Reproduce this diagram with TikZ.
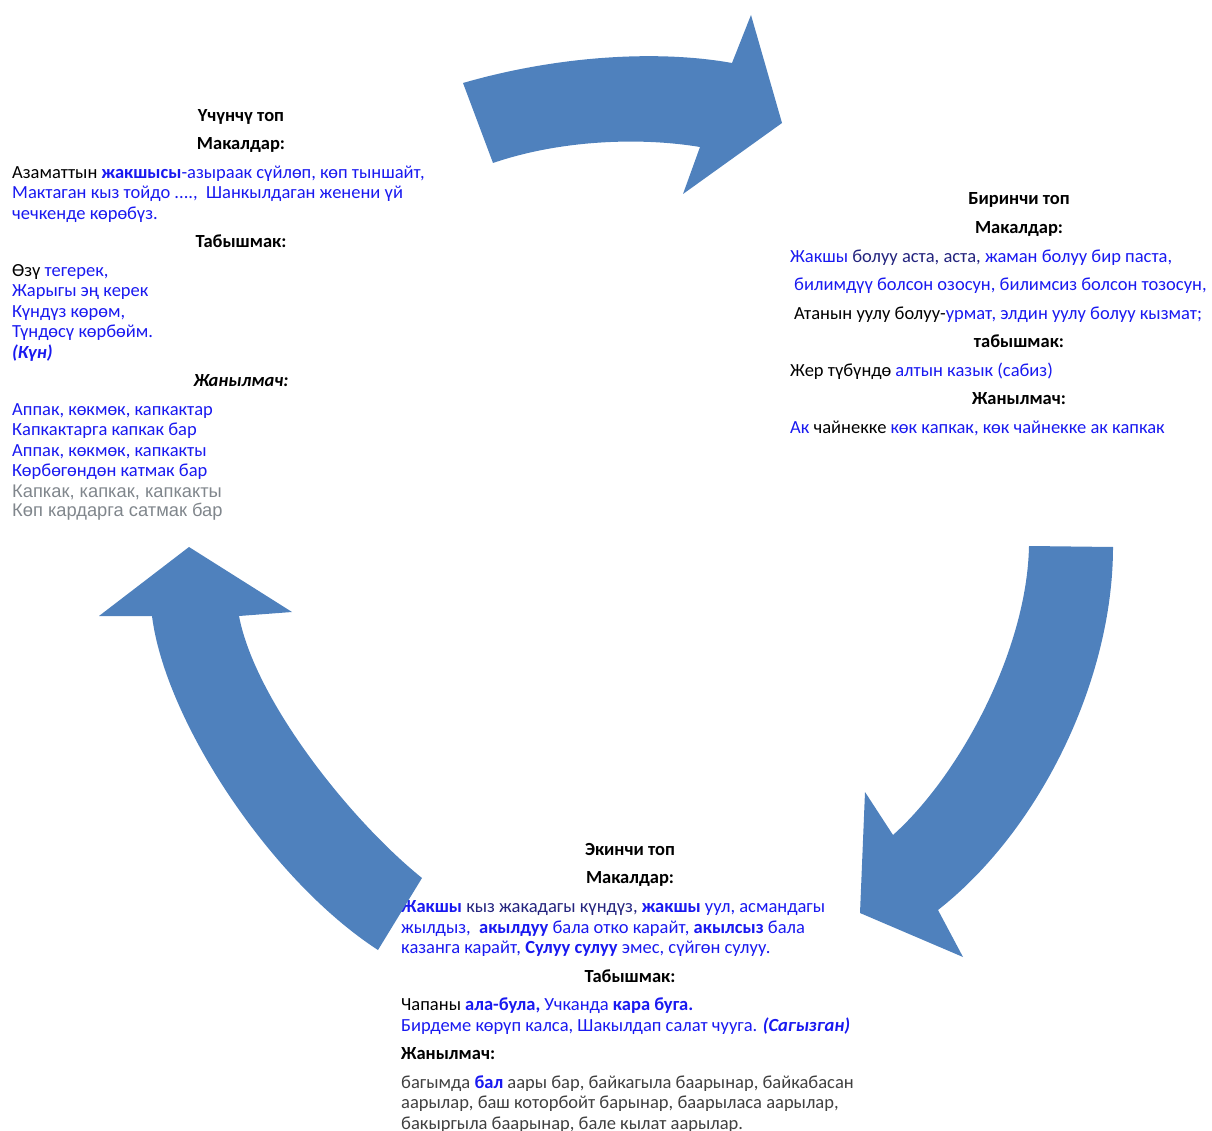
\documentclass[tikz,border=0pt]{standalone}
\usepackage{fontspec}
\setmainfont{Carlito}
\newfontfamily\arialf{Liberation Sans}
\definecolor{kblue}{RGB}{25,25,240}
\definecolor{knavy}{RGB}{35,35,125}
\definecolor{kgrey}{RGB}{128,134,140}
\definecolor{kdark}{RGB}{64,64,64}
\definecolor{arrowblue}{HTML}{4F81BD}
\newcommand{\fs}{\fontsize{18.5}{22}\selectfont}
\newcommand{\kb}[1]{\textcolor{kblue}{#1}}
\tikzset{
  txt/.style={anchor=base west, inner sep=0pt, font=\fs},
  hd/.style={anchor=base, inner sep=0pt, font=\fs\bfseries},
  bigarrow/.style={fill=arrowblue, draw=none}
}
\begin{document}
\begin{tikzpicture}[x=1pt,y=-1pt]
\useasboundingbox (0,0) rectangle (1212,1131);
\begin{scope}[shift={(0,1.5)}]
% ---------- left block: Үчүнчү топ ----------
\node[hd] (l0) at (241,120) {Үчүнчү топ};
\node[hd] (l1) at (241,148) {Макалдар:};
\node[txt] (l2) at (12,177) {Азаматтын \kb{\textbf{жакшысы}-азыраак сүйлөп, көп тыншайт,}};
\node[txt,kblue] (l3) at (12,197) {Мактаган кыз тойдо ....,\ \ Шанкылдаган женени үй};
\node[txt,kblue] (l4) at (12,218) {чечкенде көрөбүз.};
\node[hd] (l5) at (241,246) {Табышмак:};
\node[txt] (l6) at (12,275) {Өзү \kb{тегерек,}};
\node[txt,kblue] (l7) at (12,295) {Жарыгы эң керек};
\node[txt,kblue] (l8) at (12,316) {Күндүз көрөм,};
\node[txt,kblue] (l9) at (12,336) {Түндөсү көрбөйм.};
\node[txt,kblue,font=\fs\bfseries\itshape] (l10) at (12,357) {(Күн)};
\node[hd,font=\fs\bfseries\itshape] (l11) at (241,385) {Жанылмач:};
\node[txt,kblue] (l12) at (12,414) {Аппак, көкмөк, капкактар};
\node[txt,kblue] (l13) at (12,434) {Капкактарга капкак бар};
\node[txt,kblue] (l14) at (12,455) {Аппак, көкмөк, капкакты};
\node[txt,kblue] (l15) at (12,475) {Көрбөгөндөн катмак бар};
\node[txt,kgrey,font=\fontsize{18.3}{22}\arialf] (l16) at (12,496) {Капкак, капкак, капкакты};
\node[txt,kgrey,font=\fontsize{18.3}{22}\arialf] (l17) at (12,515) {Көп кардарга сатмак бар};
% ---------- right block: Биринчи топ ----------
\node[hd] (r0) at (1019,203) {Биринчи топ};
\node[hd] (r1) at (1019,232) {Макалдар:};
\node[txt,knavy] (r2) at (790,261) {\kb{Жакшы} болуу аста, аста, \kb{жаман болуу бир паста,}};
\node[txt,kblue] (r3) at (794,289) {билимдүү болсон озосун, билимсиз болсон тозосун,};
\node[txt] (r4) at (794,318) {Атанын уулу болуу-\kb{урмат, элдин уулу болуу кызмат;}};
\node[hd] (r5) at (1019,346) {табышмак:};
\node[txt] (r6) at (790,375) {Жер түбүндө \kb{алтын казык (сабиз)}};
\node[hd] (r7) at (1019,403) {Жанылмач:};
\node[txt] (r8) at (790,432) {\kb{Ак} чайнекке \kb{көк капкак, көк чайнекке ак капкак}};
% ---------- bottom block: Экинчи топ ----------
\node[hd] (b0) at (630,854) {Экинчи топ};
\node[hd] (b1) at (630,882) {Макалдар:};
\node[txt,kblue] (b2) at (401,911) {\textbf{Жакшы} \textcolor{knavy}{кыз жакадагы күндүз,} \textbf{жакшы} уул, асмандагы};
\node[txt,kblue] (b3) at (401,932) {жылдыз,\ \ \textbf{акылдуу} бала отко карайт, \textbf{акылсыз} бала};
\node[txt,kblue] (b4) at (401,952) {казанга карайт, \textbf{Сулуу сулуу} эмес, сүйгөн сулуу.};
\node[hd] (b5) at (630,981) {Табышмак:};
\node[txt] (b6) at (401,1009) {Чапаны \kb{\textbf{ала-була,} Учканда \textbf{кара буга.}}};
\node[txt,kblue] (b7) at (401,1030) {Бирдеме көрүп калса, Шакылдап салат чууга. \textbf{\textit{(Сагызган)}}};
\node[txt,font=\fs\bfseries] (b8) at (401,1058) {Жанылмач:};
\node[txt,kdark] (b9) at (401,1087) {багымда \kb{\textbf{бал}} аары бар, байкагыла баарынар, байкабасан};
\node[txt,kdark] (b10) at (401,1107) {аарылар, баш которбойт барынар, баарыласа аарылар,};
\node[txt,kdark] (b11) at (401,1128) {бакыргыла баарынар, бале кылат аарылар.};
\end{scope}
% ---------- arrows ----------
% top arrow
\fill[bigarrow] (463,83) .. controls (560,55) and (660,50) .. (732,63)
  -- (751,15) -- (782,123) -- (683,194) -- (700,147)
  .. controls (640,137) and (560,140) .. (493,163) -- cycle;
% right arrow
\fill[bigarrow] (1029,546) -- (1113,547)
  .. controls (1113,680) and (1040,830) .. (938,910)
  -- (963,957) -- (860,913) -- (865,792) -- (893,835)
  .. controls (960,775) and (1027,650) .. (1029,546) -- cycle;
% left arrow
\fill[bigarrow] (189,547) -- (292,612) -- (239,616)
  .. controls (255,700) and (350,820) .. (422,878)
  -- (378,950)
  .. controls (270,880) and (165,720) .. (152,616)
  -- (99,616) -- cycle;
\end{tikzpicture}
\end{document}
